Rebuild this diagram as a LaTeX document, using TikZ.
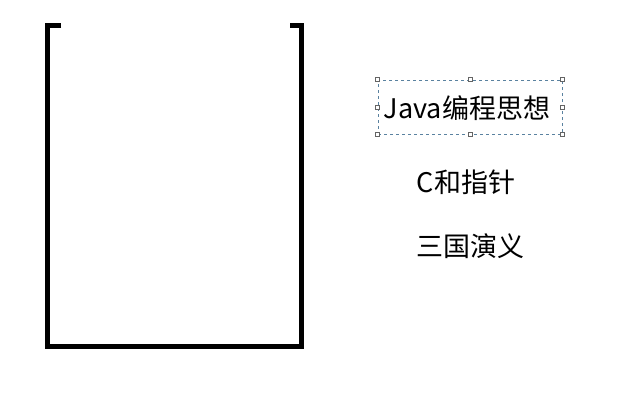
\documentclass[tikz,border=0pt]{standalone}
\usepackage{fontspec}
\setmainfont{Noto Sans CJK SC}
\usetikzlibrary{positioning}
\definecolor{selcolor}{RGB}{90,130,160}
\definecolor{handlecolor}{RGB}{100,100,100}

\begin{document}
\begin{tikzpicture}[x=1pt, y=-1pt,
    book/.style={font=\fontsize{27}{32}\selectfont, inner sep=0pt},
    handle/.style={draw=handlecolor, fill=white, minimum size=4pt, inner sep=0pt, line width=0.6pt}]
    \useasboundingbox (0,0) rectangle (617,415);
    % the stack
    \draw[line width=5pt, line cap=butt] (61,25) -- (47.5,25) -- (47.5,346.5) -- (301.5,346.5) -- (301.5,25) -- (290,25);
    % books
    \node[book] (java) at (467,108) {Java编程思想};
    \node[book] (cptr) at (466,182) {C和指针};
    \node[book] (sanguo) at (470,246) {三国演义};
    % selection frame
    \node[draw=selcolor, dashed, line width=0.6pt, minimum width=184pt, minimum height=54pt] (sel) at (470,107) {};
    \foreach \a in {north west, north, north east, east, south east, south, south west, west}
      \node[handle] at (sel.\a) {};
  \end{tikzpicture}
\end{document}
